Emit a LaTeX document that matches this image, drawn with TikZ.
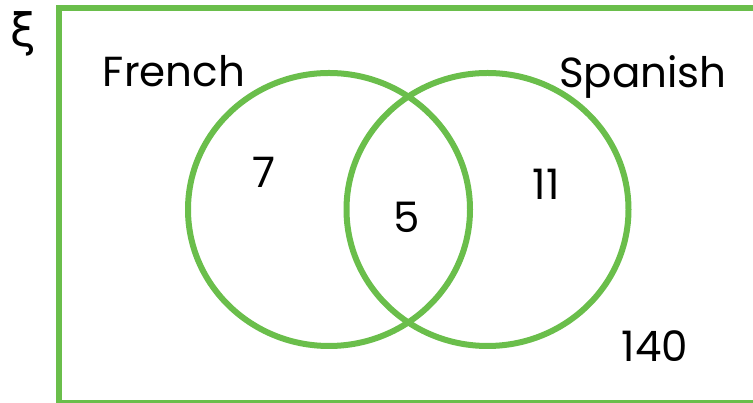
\documentclass[tikz,border=0pt]{standalone}
\usepackage{fontspec}
\setmainfont{Poppins}
\newfontfamily\greekfont{DejaVu Sans}
\usetikzlibrary{shapes.geometric}
\definecolor{setgreen}{RGB}{106,190,75}
\tikzset{
  setline/.style={draw=setgreen,line width=6pt},
  venn/.style={setline,ellipse,minimum width=282pt,minimum height=273pt,inner sep=0pt},
  lbl/.style={font=\fontsize{42}{50}\selectfont,anchor=base,inner sep=0pt}
}

\begin{document}
\begin{tikzpicture}[x=1pt,y=1pt]
\useasboundingbox (0,0) rectangle (753,403);
\clip (0,0) rectangle (753,403);
% universal set
\draw[setline] (58.5,-0.5) rectangle (790,394.5);
\node[font=\fontsize{46}{50}\selectfont\greekfont] (xi) at (23,369) {ξ};
% the two sets
\node[venn] (french) at (329,193.5) {};
\node[venn] (spanish) at (487.5,193.5) {};
\node[lbl] (frenchlbl) at (174,316) {French};
\node[lbl] (spanishlbl) at (643,315) {Spanish};
% counts
\node[lbl] (onlyfrench) at (264,215) {7};
\node[lbl] (both) at (407,170) {5};
\node[lbl] (onlyspanish) at (546,203) {11};
\node[lbl] (neither) at (655,41) {140};
\end{tikzpicture}
\end{document}
